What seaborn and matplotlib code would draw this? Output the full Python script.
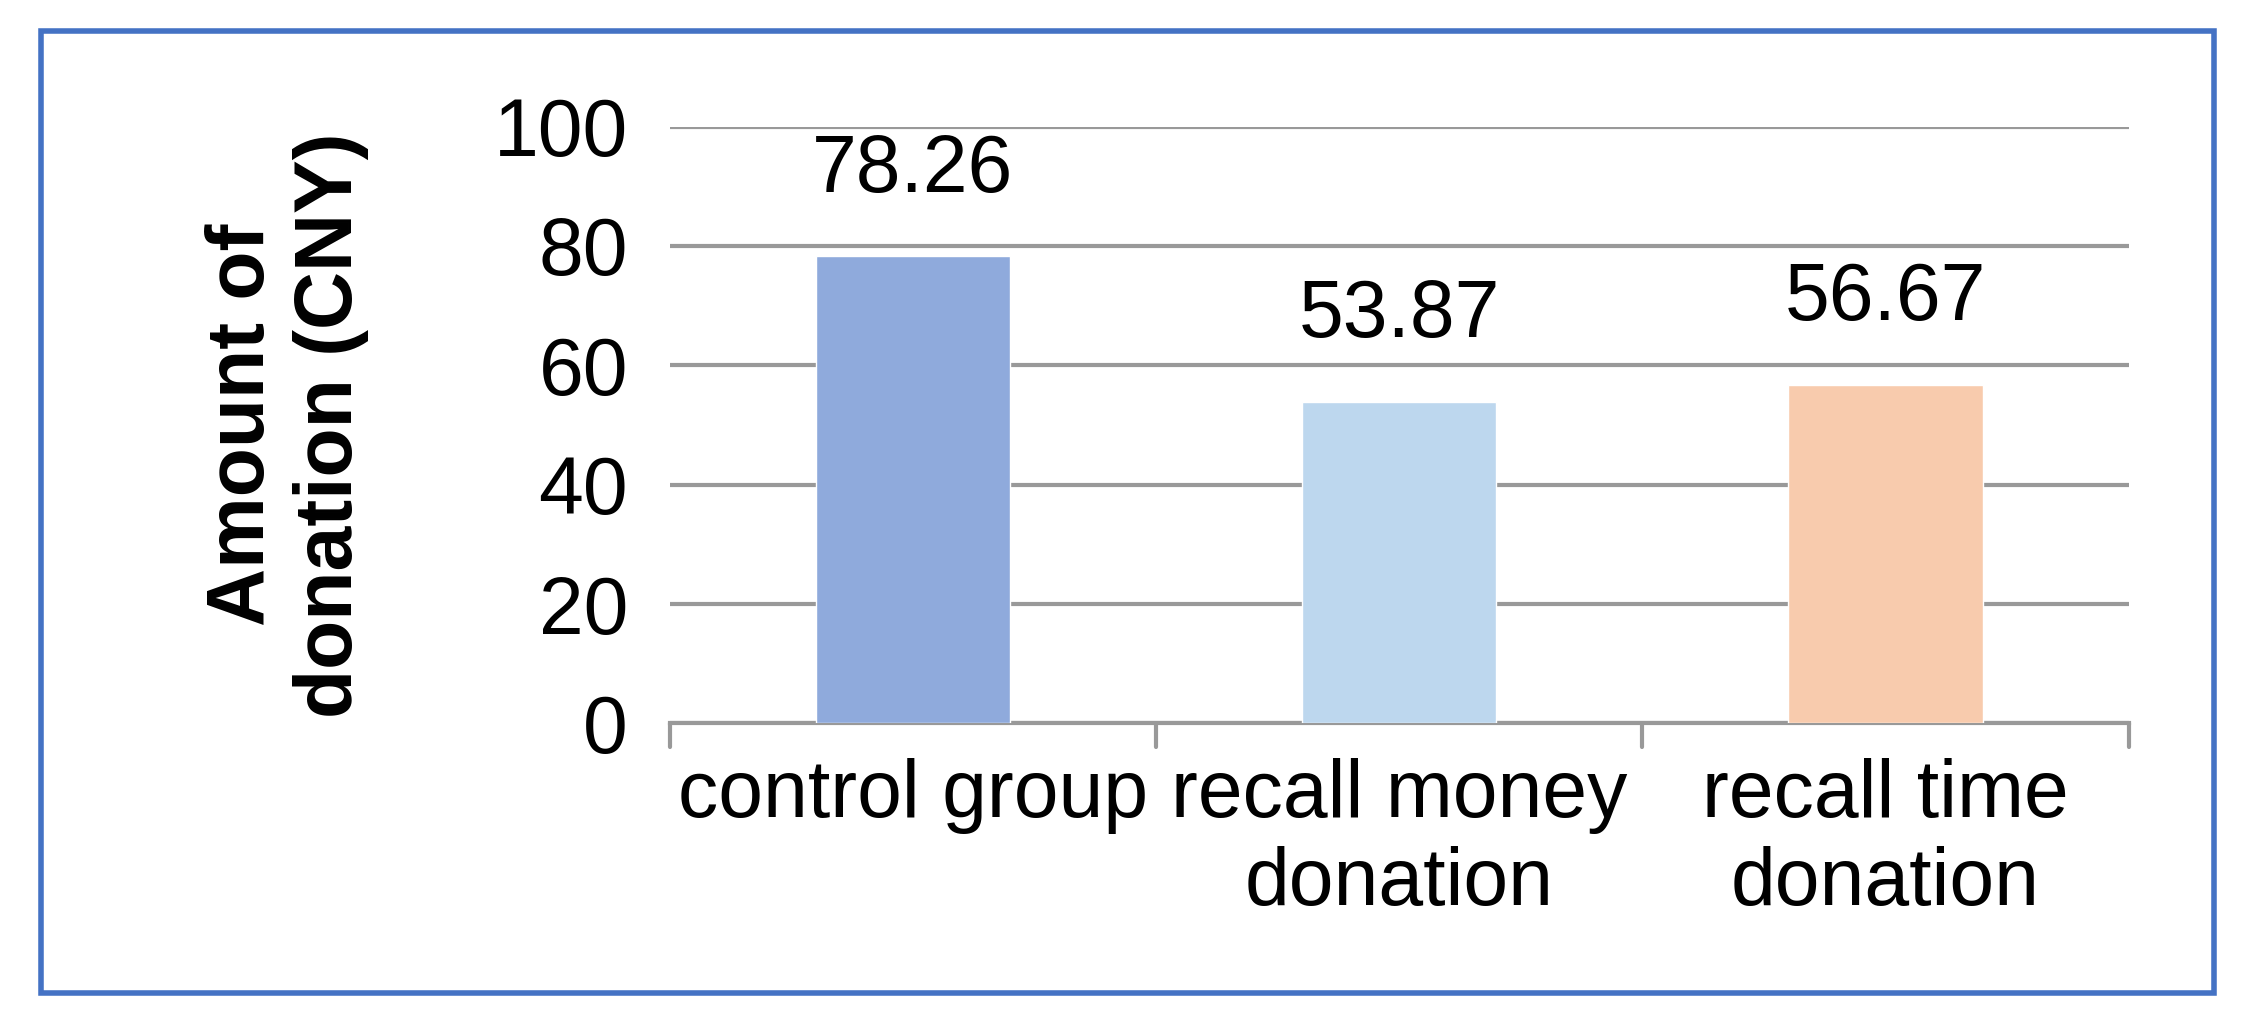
import matplotlib
matplotlib.use("Agg")
import matplotlib.pyplot as plt
import seaborn as sns
import pandas as pd
from matplotlib.patches import Rectangle

groups = ["control group", "recall money\ndonation", "recall time\ndonation"]
amounts = [78.26, 53.87, 56.67]
bar_colors = ["#8FAADC", "#BDD7EE", "#F8CBAD"]
yticks = [0, 20, 40, 60, 80, 100]

sns.set_theme(style="white")
plt.rcParams["font.family"] = ["Liberation Sans", "DejaVu Sans"]
plt.rcParams["text.color"] = "black"

fig = plt.figure(figsize=(22.55, 10.29), dpi=100)
ax = fig.add_axes([0.297, 0.297, 0.647, 0.58])

df = pd.DataFrame({"group": groups, "amount": amounts})
sns.barplot(data=df, x="group", y="amount", hue="group", palette=bar_colors,
            saturation=1, legend=False, width=0.4, ax=ax, zorder=3)

ax.set_xlim(-0.5, 2.5)
ax.set_ylim(0, 100)
ax.set_yticks(yticks)
ax.yaxis.grid(True, color="#999999", linewidth=3, zorder=0)
ax.set_axisbelow(True)
for s in ["top", "right", "left"]:
    ax.spines[s].set_visible(False)
ax.spines["bottom"].set_color("#999999")
ax.spines["bottom"].set_linewidth(3)
ax.tick_params(axis="y", labelsize=58, length=0, pad=30, labelcolor="black")
ax.tick_params(axis="x", labelsize=58, length=0, pad=25, labelcolor="black")
ax.set_xlabel("")
ax.set_ylabel("Amount of\ndonation (CNY)", fontsize=58, fontweight="bold",
              labelpad=90, color="black")

# category separator ticks below axis
for x in [-0.5, 0.5, 1.5, 2.5]:
    ax.plot([x, x], [0, -4], color="#999999", linewidth=3, clip_on=False)

for i, v in enumerate(amounts):
    ax.text(i, v + 8, f"{v:.2f}", ha="center", va="bottom", fontsize=58, color="black")

fig.add_artist(Rectangle((0.018, 0.035), 0.964, 0.935, transform=fig.transFigure,
                         fill=False, edgecolor="#4472C4", linewidth=4))

fig.savefig("out.png", dpi=100)
